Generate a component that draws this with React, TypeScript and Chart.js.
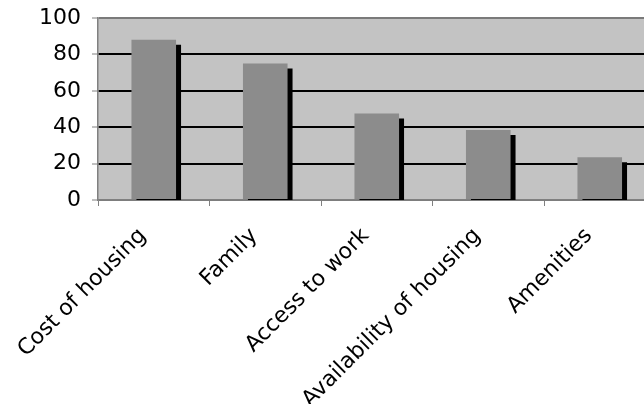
import { useEffect, useRef } from "react";
import Chart from "chart.js/auto";

const categories = ["Cost of housing", "Family", "Access to work", "Availability of housing", "Amenities"];
const values = [88, 75, 47.5, 38.5, 23.5];
const yTicks = [0, 20, 40, 60, 80, 100];

export default function App() {
  const ref = useRef<HTMLCanvasElement>(null);

  useEffect(() => {
    if (!ref.current) return;
    const plotBg = {
      id: "plotBg",
      beforeDraw(chart: any) {
        const { ctx, chartArea: a } = chart;
        ctx.save();
        ctx.fillStyle = "#c3c3c3";
        ctx.fillRect(a.left, a.top, a.right - a.left, a.bottom - a.top);
        ctx.restore();
      },
    };
    const barShadow = {
      id: "barShadow",
      beforeDatasetDraw(chart: any) {
        const ctx = chart.ctx;
        const r = chart.currentDevicePixelRatio || 1;
        ctx.save();
        ctx.shadowColor = "#000000";
        ctx.shadowOffsetX = 5 * r;
        ctx.shadowOffsetY = 5 * r;
        ctx.shadowBlur = 0;
      },
      afterDatasetDraw(chart: any) {
        chart.ctx.restore();
      },
    };

    const chart = new Chart(ref.current, {
      type: "bar",
      data: {
        labels: categories,
        datasets: [
          {
            data: values,
            backgroundColor: "#8c8c8c",
            borderWidth: 0,
            categoryPercentage: 1,
            barPercentage: 0.4,
          },
        ],
      },
      plugins: [plotBg, barShadow],
      options: {
        animation: false,
        responsive: true,
        maintainAspectRatio: false,
        layout: { padding: { top: 10, right: 12.5, left: 0, bottom: 0 } },
        plugins: { legend: { display: false }, tooltip: { enabled: false } },
        scales: {
          x: {
            afterFit(scale: any) {
              scale.height = 204;
              scale.paddingLeft = 0;
              scale.paddingRight = 0;
            },
            grid: {
              drawOnChartArea: false,
              offset: true,
              tickLength: 6,
              tickColor: "#808080",
              tickWidth: 1,
            },
            border: { color: "#808080", width: 1.5 },
            ticks: {
              autoSkip: false,
              maxRotation: 45,
              minRotation: 45,
              padding: 17,
              labelOffset: -11,
              color: "#000000",
              font: { family: "DejaVu Sans", size: 22 },
            },
          },
          y: {
            min: 0,
            max: 100,
            afterFit(scale: any) {
              scale.width = 90;
              scale.paddingTop = 0;
              scale.paddingBottom = 0;
            },
            afterBuildTicks(scale: any) {
              scale.ticks = yTicks.map((v) => ({ value: v }));
            },
            grid: {
              color: (c: any) => (c.tick && (c.tick.value === 100 || c.tick.value === 0) ? "#7a7a7a" : "#000000"),
              lineWidth: 2,
              tickLength: 6,
              tickColor: "#808080",
              tickWidth: 1,
            },
            border: { color: "#808080", width: 1.5 },
            ticks: {
              padding: 11,
              color: "#000000",
              font: { family: "DejaVu Sans", size: 22 },
            },
          },
        },
      },
    });
    return () => chart.destroy();
  }, []);

  return (
    <div style={{ position: "fixed", left: 0, top: 0, width: "100vw", height: "100vh", overflow: "hidden" }}>
      <div style={{ position: "absolute", left: 8, top: 8, width: 660, height: 396 }}>
        <canvas ref={ref} />
      </div>
    </div>
  );
}
